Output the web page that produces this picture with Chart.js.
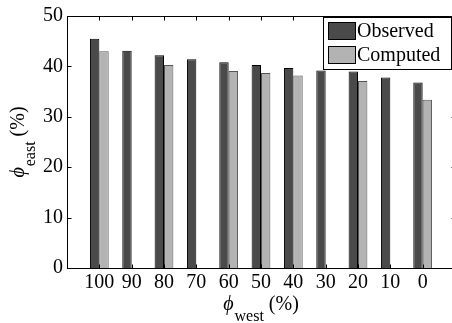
<!DOCTYPE html>
<html>
<head>
<meta charset="utf-8">
<title>phi east vs phi west</title>
<script src="https://cdn.jsdelivr.net/npm/chart.js@4.4.0/dist/chart.umd.min.js"></script>
<style>
html, body { margin: 0; padding: 0; background: #fff; overflow: hidden; }
</style>
</head>
<body>
<canvas id="barChart" width="458" height="323"></canvas>
<script>
// phi_west categories (%) and phi_east values (%)
var categories = ['100', '90', '80', '70', '60', '50', '40', '30', '20', '10', '0'];
var observed = [45.5, 43.1, 42.2, 41.4, 40.8, 40.3, 39.7, 39.2, 39.0, 37.8, 36.8];
var computed = [43.0, null, 40.3, null, 39.1, 38.7, 38.2, null, 37.1, null, 33.4];
var yTicks = [0, 10, 20, 30, 40, 50];

var FONT = '"Liberation Serif", "Times New Roman", serif';

// xlim like matlab [0 12]: one empty slot on each side
var labels = [''].concat(categories, ['']);
function pad(arr) { return [null].concat(arr, [null]); }

// text with a subscript, centred on x at baseline y
function drawSubText(ctx, cx, y, main, sub, tail) {
    ctx.font = 'italic 20px ' + FONT;
    var w1 = ctx.measureText(main).width + 1;
    ctx.font = '16px ' + FONT;
    var w2 = ctx.measureText(sub).width;
    ctx.font = '20px ' + FONT;
    var w3 = ctx.measureText(tail).width;
    var x = cx - (w1 + w2 + w3) / 2;
    ctx.textAlign = 'left';
    ctx.textBaseline = 'alphabetic';
    ctx.fillStyle = '#000';
    ctx.font = 'italic 20px ' + FONT;
    ctx.fillText(main, x, y);
    ctx.font = '16px ' + FONT;
    ctx.fillText(sub, x + w1, y + 11);
    ctx.font = '20px ' + FONT;
    ctx.fillText(tail, x + w1 + w2, y);
}

// box, inward ticks, legend and axis titles
var framePlugin = {
    id: 'frame',
    afterDraw: function (chart) {
        var ctx = chart.ctx;
        var a = chart.chartArea;
        var xs = chart.scales.x, ys = chart.scales.y;
        var l = Math.round(a.left) + 0.5, r = Math.round(a.right) + 0.5;
        var t = Math.round(a.top) + 0.5, b = Math.round(a.bottom) + 0.5;
        ctx.save();
        ctx.strokeStyle = '#000';
        ctx.lineWidth = 1;
        ctx.strokeRect(l, t, r - l, b - t);

        ctx.beginPath();
        for (var i = 1; i <= categories.length; i++) {
            var x = Math.round(xs.getPixelForValue(i)) + 0.5;
            ctx.moveTo(x, t); ctx.lineTo(x, t + 4);
            ctx.moveTo(x, b); ctx.lineTo(x, b - 4);
        }
        yTicks.forEach(function (v) {
            var y = Math.round(ys.getPixelForValue(v)) + 0.5;
            ctx.moveTo(l, y); ctx.lineTo(l + 4, y);
            ctx.moveTo(r, y); ctx.lineTo(r - 4, y);
        });
        ctx.stroke();

        // legend box (north east, inside axes)
        var lx = 323.5, ly = 17.5, lw = 128, lh = 52;
        ctx.fillStyle = '#fff';
        ctx.fillRect(lx, ly, lw, lh);
        ctx.strokeRect(lx, ly, lw, lh);
        chart.data.datasets.forEach(function (ds, k) {
            var sy = 22 + k * 24;
            ctx.fillStyle = ds.backgroundColor;
            ctx.fillRect(328.5, sy + 0.5, 27, 17);
            ctx.strokeRect(328.5, sy + 0.5, 27, 17);
            ctx.fillStyle = '#000';
            ctx.font = '20px ' + FONT;
            ctx.textAlign = 'left';
            ctx.textBaseline = 'middle';
            ctx.fillText(ds.label, 357, sy + 10);
        });

        // axis titles
        drawSubText(ctx, (a.left + a.right) / 2, 310, '\u03d5', 'west', ' (%)');
        ctx.save();
        ctx.translate(24, (a.top + a.bottom) / 2);
        ctx.rotate(-Math.PI / 2);
        drawSubText(ctx, 0, 0, '\u03d5', 'east', ' (%)');
        ctx.restore();
        ctx.restore();
    }
};

var ctx = document.getElementById('barChart').getContext('2d');
new Chart(ctx, {
    type: 'bar',
    data: {
        labels: labels,
        datasets: [
            {
                label: 'Observed',
                data: pad(observed),
                backgroundColor: '#4a4a4a',
                borderColor: '#000',
                borderWidth: 1
            },
            {
                label: 'Computed',
                data: pad(computed),
                backgroundColor: '#b3b3b3',
                borderColor: '#555',
                borderWidth: 1
            }
        ]
    },
    options: {
        responsive: false,
        animation: false,
        layout: { padding: { top: 13, right: 2, left: 0, bottom: 0 } },
        datasets: {
            bar: { categoryPercentage: 0.58, barPercentage: 1.0 }
        },
        plugins: {
            legend: { display: false },
            tooltip: { enabled: false }
        },
        scales: {
            x: {
                offset: false,
                grid: { display: false, drawTicks: false },
                border: { display: false },
                ticks: {
                    autoSkip: false, maxRotation: 0, minRotation: 0,
                    padding: 3,
                    color: '#000',
                    font: { family: FONT, size: 20 }
                },
                afterFit: function (s) { s.height = 55; }
            },
            y: {
                min: 0, max: 50,
                grid: { display: false, drawTicks: false },
                border: { display: false },
                afterBuildTicks: function (s) {
                    s.ticks = yTicks.map(function (v) { return { value: v }; });
                },
                ticks: {
                    padding: 4,
                    color: '#000',
                    font: { family: FONT, size: 20 }
                },
                afterFit: function (s) { s.width = 67; }
            }
        }
    },
    plugins: [framePlugin]
});
</script>
</body>
</html>
